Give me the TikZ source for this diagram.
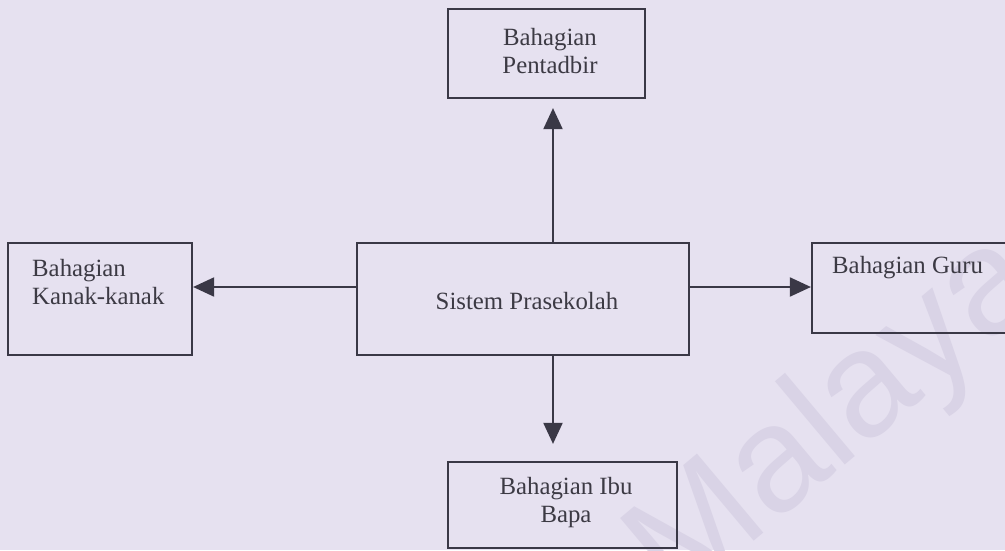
\documentclass[tikz,border=0pt]{standalone}
\usepackage{fontspec}
\setmainfont{Liberation Serif}
\newfontfamily\wmfont{Liberation Sans}
\usetikzlibrary{arrows.meta,calc}
\definecolor{paper}{RGB}{230,225,240}
\definecolor{ink}{RGB}{58,56,70}
\definecolor{txt}{RGB}{60,58,68}
\definecolor{wmark}{RGB}{217,211,230}
\tikzset{
  box/.style={draw=ink, line width=2.2pt, rectangle, inner sep=0pt},
  lbl/.style={text=txt, inner sep=0pt, font=\fontsize{24.8}{28}\selectfont},
  arr/.style={draw=ink, line width=2pt, -{Triangle[length=21pt,width=19pt]}}
}
\begin{document}
\begin{tikzpicture}[x=1pt,y=-1pt]
  % page and frame of the picture
  \fill[paper] (0,0) rectangle (1005,550);
  \useasboundingbox (0,0) rectangle (1005,550);

  % faint watermark across the lower right
  \node[text=wmark, inner sep=0pt, rotate=40, font=\wmfont\fontsize{150}{150}\selectfont]
    (wm) at (838,420) {Malaya};

  % boxes
  \node[box, minimum width=197pt, minimum height=89pt] (adm) at (546.5,53.5) {};
  \node[box, minimum width=332pt, minimum height=112pt] (ctr) at (523,299) {};
  \node[box, minimum width=184pt, minimum height=112pt] (kan) at (100,299) {};
  \node[box, minimum width=200pt, minimum height=90pt]  (gur) at (912,288) {};
  \node[box, minimum width=229pt, minimum height=86pt]  (ibu) at (562.5,505) {};

  % labels
  \node[lbl, align=center] (admT) at (550,51) {Bahagian\\Pentadbir};
  \node[lbl] (ctrT) at (527,301) {Sistem Prasekolah};
  \node[lbl, align=left, anchor=north west] (kanT) at (32,259) {Bahagian\\Kanak-kanak};
  \node[lbl, anchor=north west] (gurT) at (832,256) {Bahagian Guru};
  \node[lbl, align=center] (ibuT) at (566,503) {Bahagian Ibu\\Bapa};

  % connectors
  \draw[arr, shorten >=9pt] ([xshift=30pt]ctr.north) -- ([xshift=30pt]ctr.north |- adm.south);
  \draw[arr, shorten >=17pt] ([xshift=30pt]ctr.south) -- ([xshift=30pt]ctr.south |- ibu.north);
  \draw[arr] ([yshift=12pt]ctr.west) -- ([yshift=12pt]ctr.west -| kan.east);
  \draw[arr] ([yshift=12pt]ctr.east) -- ([yshift=12pt]ctr.east -| gur.west);
\end{tikzpicture}
\end{document}
